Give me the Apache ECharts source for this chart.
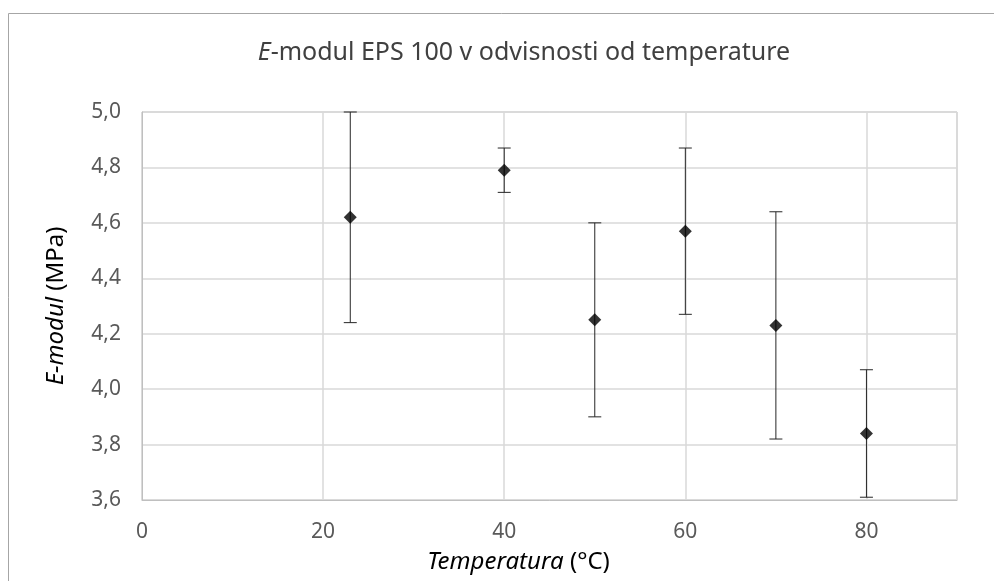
<!DOCTYPE html>
<html>
<head>
<meta charset="utf-8">
<script src="https://cdn.jsdelivr.net/npm/echarts@6/dist/echarts.min.js"></script>
<style>
html,body{margin:0;padding:0;background:#fff;}
#chart{width:994px;height:581px;}
</style>
</head>
<body>
<div id="chart"></div>
<script>
// Data
var temperatures = [23, 40, 50, 60, 70, 80];
var eModulus = [4.62, 4.79, 4.25, 4.57, 4.23, 3.84];
var errors = [0.38, 0.08, 0.35, 0.30, 0.41, 0.23];
var xTicks = [0, 20, 40, 60, 80];
var yTicks = [3.6, 3.8, 4.0, 4.2, 4.4, 4.6, 4.8, 5.0];

var FONT = 'Noto Sans';
var points = temperatures.map(function (t, i) { return [t, eModulus[i]]; });
var bars = temperatures.map(function (t, i) {
  return [t, eModulus[i] - errors[i], eModulus[i] + errors[i]];
});

var chart = echarts.init(document.getElementById('chart'), null, { renderer: 'canvas' });
chart.setOption({
  backgroundColor: '#ffffff',
  animation: false,
  title: {
    text: '{i|E}-modul EPS 100 v odvisnosti od temperature',
    left: 524,
    textAlign: 'center',
    top: 40,
    padding: 0,
    textStyle: {
      fontFamily: FONT, fontSize: 25, fontWeight: 'normal', color: '#404040',
      rich: { i: { fontFamily: FONT, fontSize: 25, fontStyle: 'italic', color: '#404040' } }
    }
  },
  graphic: [
    { type: 'line', shape: { x1: 8.5, y1: 13.5, x2: 994, y2: 13.5 }, style: { stroke: '#a6a6a6', lineWidth: 1 }, silent: true },
    { type: 'line', shape: { x1: 8.5, y1: 13.5, x2: 8.5, y2: 581 }, style: { stroke: '#a6a6a6', lineWidth: 1 }, silent: true }
  ],
  grid: {
    left: 142, right: 37, top: 112, bottom: 81,
    show: true, borderColor: '#bfbfbf', borderWidth: 1, backgroundColor: 'transparent'
  },
  xAxis: {
    type: 'value', min: 0, max: 90, interval: 20,
    name: '{i|Temperatura} (°C)',
    nameLocation: 'middle', nameGap: 50,
    nameTextStyle: {
      fontFamily: FONT, fontSize: 24, color: '#000', padding: [0, 62, 0, 0],
      rich: { i: { fontFamily: FONT, fontSize: 24, fontStyle: 'italic', color: '#000' } }
    },
    axisLine: { show: true, lineStyle: { color: '#bfbfbf', width: 1 } },
    axisTick: { show: false },
    axisLabel: {
      margin: 22, fontFamily: FONT, fontSize: 21, color: '#595959',
      formatter: function (v) { return xTicks.indexOf(v) >= 0 ? String(v) : ''; }
    },
    splitLine: { show: true, lineStyle: { color: '#d9d9d9', width: 1.5 } }
  },
  yAxis: {
    type: 'value', min: 3.6, max: 5.0, interval: 0.2,
    name: '{i|E-modul} (MPa)',
    nameLocation: 'middle', nameGap: 74, nameRotate: 90,
    nameTextStyle: {
      fontFamily: FONT, fontSize: 24, color: '#000',
      rich: { i: { fontFamily: FONT, fontSize: 24, fontStyle: 'italic', color: '#000' } }
    },
    axisLine: { show: true, lineStyle: { color: '#bfbfbf', width: 1 } },
    axisTick: { show: false },
    axisLabel: {
      margin: 21, fontFamily: FONT, fontSize: 21, color: '#595959',
      formatter: function (v) {
        var r = Math.round(v * 10) / 10;
        return yTicks.some(function (t) { return Math.abs(t - r) < 1e-6; }) ? r.toFixed(1).replace('.', ',') : '';
      }
    },
    splitLine: { show: true, lineStyle: { color: '#d9d9d9', width: 1.5 } }
  },
  series: [
    {
      type: 'custom',
      name: 'error',
      data: bars,
      z: 3,
      renderItem: function (params, api) {
        var x = api.value(0);
        var lo = api.coord([x, api.value(1)]);
        var hi = api.coord([x, api.value(2)]);
        var cap = 6.5;
        var style = { stroke: '#262626', lineWidth: 1 };
        return {
          type: 'group',
          children: [
            { type: 'line', shape: { x1: lo[0], y1: lo[1], x2: hi[0], y2: hi[1] }, style: style },
            { type: 'line', shape: { x1: lo[0] - cap, y1: lo[1], x2: lo[0] + cap, y2: lo[1] }, style: style },
            { type: 'line', shape: { x1: hi[0] - cap, y1: hi[1], x2: hi[0] + cap, y2: hi[1] }, style: style }
          ]
        };
      }
    },
    {
      type: 'scatter',
      name: 'E-modul',
      data: points,
      symbol: 'diamond',
      symbolSize: [13, 13],
      z: 4,
      itemStyle: { color: '#000000' }
    }
  ]
});
</script>
</body>
</html>
